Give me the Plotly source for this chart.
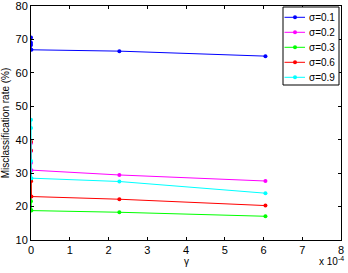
import plotly.graph_objects as go

gamma = [1e-9, 1e-8, 1e-7, 1e-6, 2.28e-4, 6.05e-4]
series_names = ["σ=0.1", "σ=0.2", "σ=0.3", "σ=0.6", "σ=0.9"]
rate_s01 = [70.6, 69.0, 68.3, 66.9, 66.5, 65.0]
rate_s02 = [39.0, 36.6, 33.1, 30.9, 29.45, 27.65]
rate_s03 = [27.8, 21.6, 19.0, 18.8, 18.3, 17.1]
rate_s06 = [39.4, 36.8, 27.6, 23.0, 22.2, 20.3]
rate_s09 = [46.0, 43.5, 33.6, 28.5, 27.5, 24.0]
colors = ["#0000ff", "#ff00ff", "#00ff00", "#ff0000", "#00ffff"]

W, H = 348, 273
ML, MR, MT, MB = 31, 7, 6, 33
PW, PH = W - ML - MR, H - MT - MB


def px(x):
    return (x - ML) / PW


def py(y):
    return (H - MB - y) / PH


x_scaled = [g * 1e4 for g in gamma]
fig = go.Figure()
for name, vals, c in zip(series_names, [rate_s01, rate_s02, rate_s03, rate_s06, rate_s09], colors):
    fig.add_trace(go.Scatter(x=x_scaled, y=vals, mode="lines+markers", name=name,
                             line=dict(color=c, width=1),
                             marker=dict(color=c, size=4, symbol="circle"),
                             showlegend=False))

font = "Liberation Sans, Arial, sans-serif"

# legend drawn as box + samples + labels
shapes = [dict(type="rect", xref="paper", yref="paper",
               x0=px(283), x1=px(339), y0=py(85), y1=py(7),
               line=dict(color="black", width=1), fillcolor="white", layer="above")]
annotations = []
for i, (name, c) in enumerate(zip(series_names, colors)):
    yc = 17.3 + 15 * i
    shapes.append(dict(type="line", xref="paper", yref="paper",
                       x0=px(284.5), x1=px(305), y0=py(yc), y1=py(yc),
                       line=dict(color=c, width=1), layer="above"))
    shapes.append(dict(type="circle", xref="paper", yref="paper",
                       xsizemode="pixel", ysizemode="pixel",
                       xanchor=px(295), yanchor=py(yc), x0=-2, x1=2, y0=-2, y1=2,
                       fillcolor=c, line=dict(color=c, width=0), layer="above"))
    annotations.append(dict(text=name, xref="paper", yref="paper", x=px(307.5), y=py(yc),
                            xanchor="left", yanchor="middle", showarrow=False,
                            font=dict(size=10), borderpad=0))

annotations += [
    dict(text="γ", xref="paper", yref="paper", x=0.5, y=py(261), xanchor="center",
         yanchor="middle", showarrow=False, font=dict(size=10), borderpad=0),
    dict(text="x 10<sup>-4</sup>", xref="paper", yref="paper", x=px(345), y=py(254),
         xanchor="right", yanchor="top", showarrow=False, font=dict(size=10), borderpad=0),
]

fig.update_layout(
    width=W, height=H,
    margin=dict(l=ML, r=MR, t=MT, b=MB, autoexpand=False),
    paper_bgcolor="white", plot_bgcolor="white",
    font=dict(family=font, size=11, color="black"),
    showlegend=False,
    xaxis=dict(range=[0, 8], dtick=1, tick0=0, showgrid=False, zeroline=False,
               showline=True, linecolor="black", linewidth=1, mirror="ticks",
               ticks="inside", ticklen=3, tickcolor="black", automargin=False,
               ticklabeloverflow="allow", tickfont=dict(size=11)),
    yaxis=dict(range=[10, 80], dtick=10, tick0=10, showgrid=False, zeroline=False,
               showline=True, linecolor="black", linewidth=1, mirror="ticks",
               ticks="inside", ticklen=3, tickcolor="black", automargin=False,
               ticklabeloverflow="allow", tickfont=dict(size=11),
               title=dict(text="Misclassification rate (%)", font=dict(size=10), standoff=4)),
    shapes=shapes,
    annotations=annotations,
)
fig.write_html("out.html", config={"displayModeBar": False},
               post_script="document.body.style.margin='0';document.body.style.overflow='hidden';")
